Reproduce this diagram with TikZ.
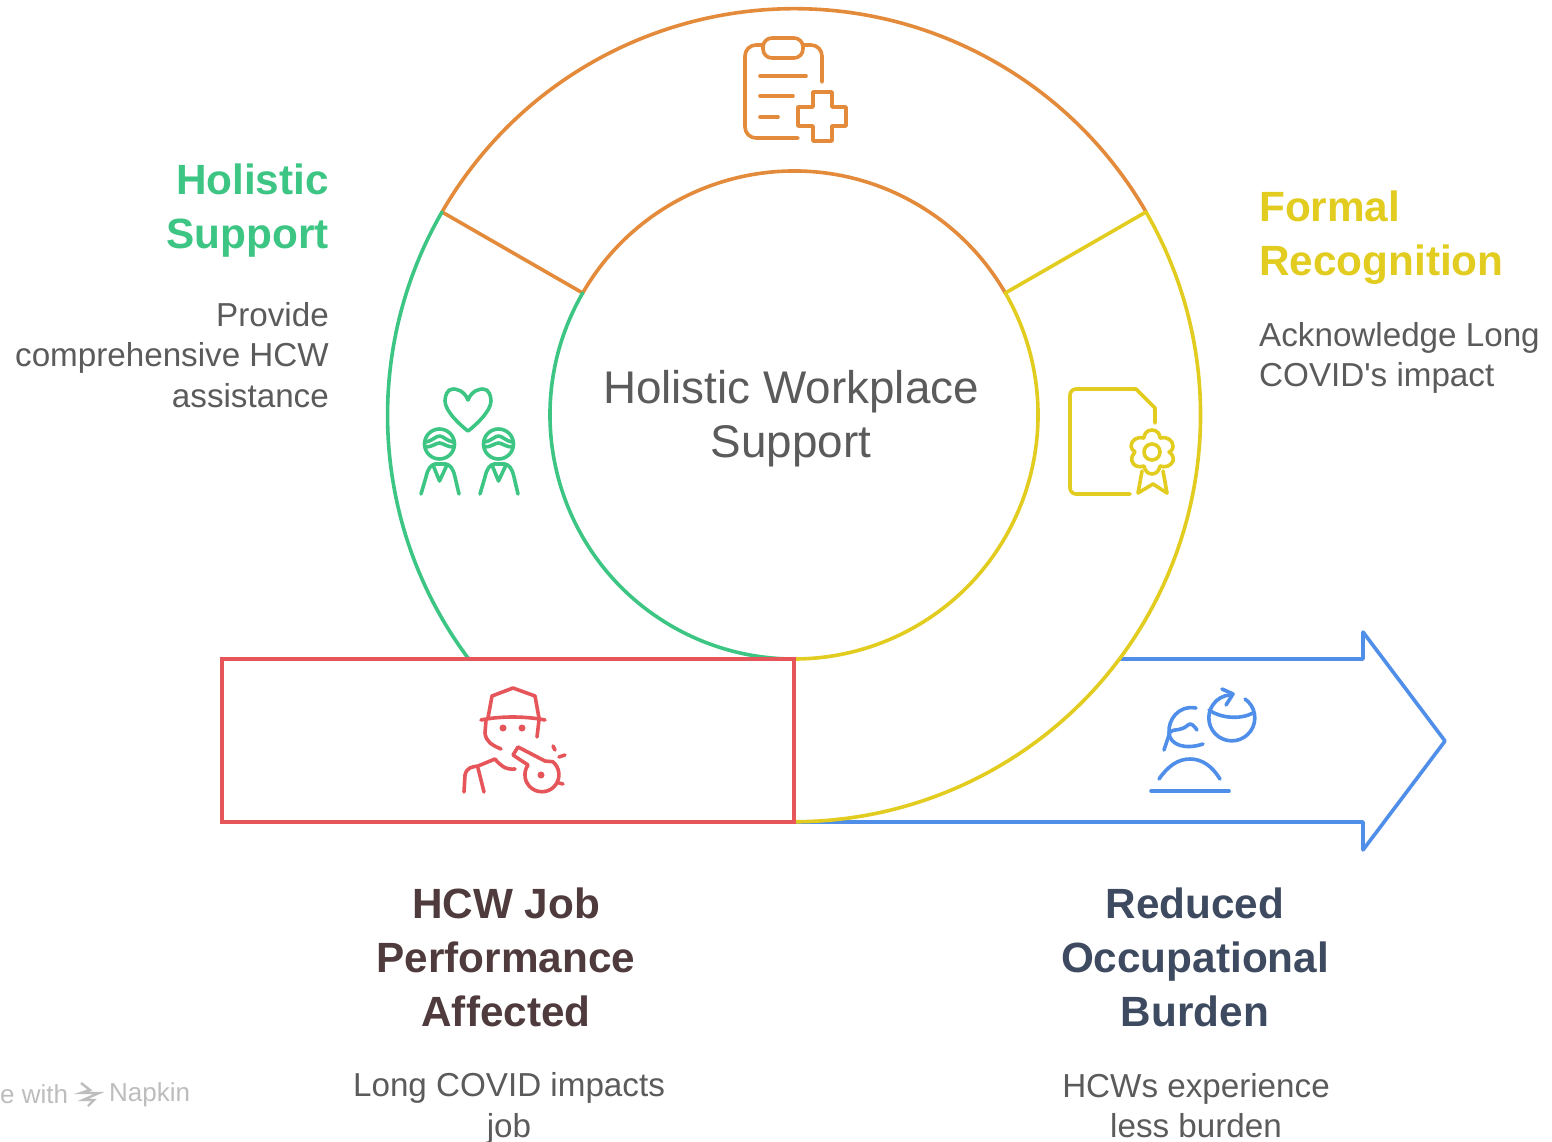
\documentclass[tikz,border=0pt]{standalone}
\usepackage{fontspec}
\setmainfont{Liberation Sans}
\newfontfamily\plainfont{Liberation Sans}
\definecolor{cgreen}{HTML}{3CC583}
\definecolor{cyellow}{HTML}{E2CC1F}
\definecolor{corange}{HTML}{E38B3B}
\definecolor{cred}{HTML}{E5555A}
\definecolor{cblue}{HTML}{4F8EE9}
\definecolor{cbody}{HTML}{5B5B5B}
\definecolor{cbrown}{HTML}{4F3B3D}
\definecolor{cslate}{HTML}{3E4A60}
\definecolor{cmark}{HTML}{BDBDBD}
\tikzset{
  ring/.style={line width=3.6pt,line cap=round,line join=round},
  ico/.style={line width=3.6pt,line cap=round,line join=round},
  ttl/.style={font=\fontsize{42.3}{54}\selectfont\bfseries,inner sep=0pt},
  dsc/.style={font=\fontsize{33.2}{40.5}\selectfont,text=cbody,inner sep=0pt},
  ctr/.style={font=\fontsize{45.8}{54}\selectfont,text=cbody,inner sep=0pt,align=center}
}
\begin{document}
\begin{tikzpicture}[x=1pt,y=-1pt]
\useasboundingbox (0,0) rectangle (1552,1142);
\fill[white] (0,0) rectangle (1552,1142);
\def\Ro{406.5}\def\Ri{244}
% blue arrow
\draw[ring,cblue] (1120,659) -- (1363,659) -- (1363,632) -- (1445,741) -- (1363,850) -- (1363,822) -- (794,822);
% orange sector
\draw[ring,corange] (582.7,293) -- (442,212) arc[start angle=150,end angle=30,radius=\Ro pt];
\draw[ring,corange] (582.7,293) arc[start angle=150,end angle=30,radius=\Ri pt];
% yellow sector
\draw[ring,cyellow] (1005.3,293) -- (1146,212) arc[start angle=30,end angle=-90,radius=\Ro pt];
\draw[ring,cyellow] (1005.3,293) arc[start angle=30,end angle=-90,radius=\Ri pt];
% green sector
\draw[ring,cgreen] (442,212) arc[start angle=150,end angle=216.87,radius=\Ro pt];
\draw[ring,cgreen] (582.7,293) arc[start angle=150,end angle=270,radius=\Ri pt];
% red box
\node[draw=cred,line width=3.6pt,minimum width=572pt,minimum height=163pt,inner sep=0pt] (jobbox) at (508,740.5) {};

% clipboard icon
\begin{scope}[ico,corange]
\draw (763,45) -- (756,45) arc[start angle=90,end angle=180,radius=11pt] -- (745,127) arc[start angle=180,end angle=270,radius=11pt] -- (798,138);
\draw (803,45) -- (811,45) arc[start angle=90,end angle=0,radius=11pt] -- (822,82);
\draw[rounded corners=9pt] (763,38) rectangle (803,58);
\draw (760,76) -- (806,76) (760,96) -- (793,96) (760,117) -- (778,117);
\draw (813,92) -- (832,92) -- (832,107) -- (846,107) -- (846,126) -- (832,126) -- (832,141) -- (813,141) -- (813,126) -- (798,126) -- (798,107) -- (813,107) -- cycle;
\end{scope}

% people icon
\begin{scope}[ico,cgreen]
\draw (468,400) .. controls (464,390) and (456,389) .. (453,389) .. controls (447,389) and (445,396) .. (445,401) .. controls (445,411) and (460,425) .. (468,431) .. controls (476,425) and (491,411) .. (491,401) .. controls (491,396) and (489,389) .. (483,389) .. controls (480,389) and (472,390) .. (468,400) -- cycle;
\foreach \dx in {0,59}{
\begin{scope}[xshift=\dx pt]
\draw (439.5,444) circle[radius=15pt];
\draw (426,442) .. controls (432,441) and (436,436) .. (439.5,436) .. controls (443,436) and (447,441) .. (453,442);
\draw (426,447) .. controls (432,447) and (436,443) .. (439.5,443) .. controls (443,443) and (447,447) .. (453,447);
\draw (421,494) -- (426,477) .. controls (428,468) and (431,465) .. (435,464) -- (446,464) .. controls (450,465) and (453,468) .. (455,477) -- (459,494);
\draw (433,465) -- (439.5,481) -- (447,465);
\end{scope}}
\end{scope}

% certificate icon
\begin{scope}[ico,cyellow]
\draw (1155,423) -- (1155,408) -- (1136,389) -- (1076,389) arc[start angle=90,end angle=180,radius=6pt] -- (1070,488) arc[start angle=180,end angle=270,radius=6pt] -- (1130,494);
\draw (1152,452) circle[radius=8pt];
\draw (1152,430) .. controls (1157,430) and (1160,434) .. (1160,438) .. controls (1166,436) and (1173,440) .. (1173,446) .. controls (1173,450) and (1170,452) .. (1169,452) .. controls (1172,454) and (1174,457) .. (1173,461) .. controls (1171,466) and (1165,468) .. (1160,466) .. controls (1159,471) and (1156,474) .. (1152,474) .. controls (1148,474) and (1145,471) .. (1144,466) .. controls (1139,468) and (1133,466) .. (1132,461) .. controls (1131,457) and (1133,454) .. (1135,452) .. controls (1133,450) and (1131,449) .. (1131,446) .. controls (1131,440) and (1138,436) .. (1144,438) .. controls (1144,434) and (1147,430) .. (1152,430) -- cycle;
\draw (1142,471) -- (1138,493) -- (1153,484) -- (1167,493) -- (1163,471);
\end{scope}

% whistle icon
\begin{scope}[ico,cred]
\draw (481,720) .. controls (500,716) and (525,716) .. (545,720);
\draw (488,718) -- (492,696) -- (513,688) -- (535,696) -- (539,718);
\draw (486,720) -- (485,733) .. controls (486,742) and (492,745) .. (501,749);
\draw (539,720) -- (537,737);
\fill (503,728) circle[radius=3.5pt] (522,728) circle[radius=3.5pt];
\draw (464,792) -- (465,775) .. controls (467,767) and (472,767) .. (478,766) -- (495,759) .. controls (500,765) and (505,770) .. (515,769);
\draw (478,768) -- (484,792);
\draw (518,747) -- (513,755) -- (528,765) arc[start angle=145,end angle=410,radius=17pt] -- (545,761) -- cycle;
\draw (559,783) -- (563,784);
\fill (541,775) circle[radius=3.5pt];
\draw (553,746) -- (555,750) (559,757) -- (565,755);
\end{scope}

% head icon
\begin{scope}[ico,cblue]
\draw (1245,699) arc[start angle=55,end angle=-265,radius=23pt];
\draw (1209,710) .. controls (1220,718) and (1240,720) .. (1253,713);
\draw (1222,689) -- (1233,694) -- (1226,705);
\draw (1196,708) .. controls (1178,705) and (1168,720) .. (1169,733) .. controls (1170,745) and (1185,750) .. (1203,744);
\draw (1164,750) -- (1170,732) .. controls (1175,728) and (1180,732) .. (1188,725) .. controls (1191,722) and (1194,726) .. (1197,730);
\draw (1159,779) .. controls (1168,766) and (1178,759) .. (1190,759) .. controls (1202,759) and (1212,766) .. (1220,779);
\draw (1151,791) -- (1229,791);
\end{scope}

% texts
\node[ttl,text=cgreen,align=right,anchor=east] (t1) at (329,211) {Holistic\\Support};
\node[dsc,align=right,anchor=east] (d1) at (329,355) {Provide\\comprehensive HCW\\assistance};
\node[ttl,text=cyellow,align=left,anchor=west] (t2) at (1259,238) {Formal\\Recognition};
\node[dsc,align=left,anchor=west] (d2) at (1259,358) {Acknowledge Long\\COVID{\plainfont '}s impact};
\node[ctr] (c) at (791,419) {Holistic Workplace\\Support};
\node[ttl,text=cbrown,align=center] (t3) at (506,957.5) {HCW Job\\Performance\\Affected};
\node[dsc,align=center] (d3) at (509,1108.5) {Long COVID impacts\\job};
\node[ttl,text=cslate,align=center] (t4) at (1195,957.5) {Reduced\\Occupational\\Burden};
\node[dsc,align=center] (d4) at (1196,1105.5) {HCWs experience\\less burden};

% watermark
\node[font=\fontsize{26}{30}\selectfont,text=cmark,inner sep=0pt,anchor=west] (wm1) at (0,1094) {e with};
\node[font=\fontsize{26}{30}\selectfont,text=cmark,inner sep=0pt,anchor=west] (wm2) at (109,1095) {Napkin};
\draw[cmark,line width=2.4pt] (81,1083) -- (90,1090) -- (81,1093) -- (99,1093) -- (83,1100) -- (94,1100) -- (88,1106);
\end{tikzpicture}
\end{document}
